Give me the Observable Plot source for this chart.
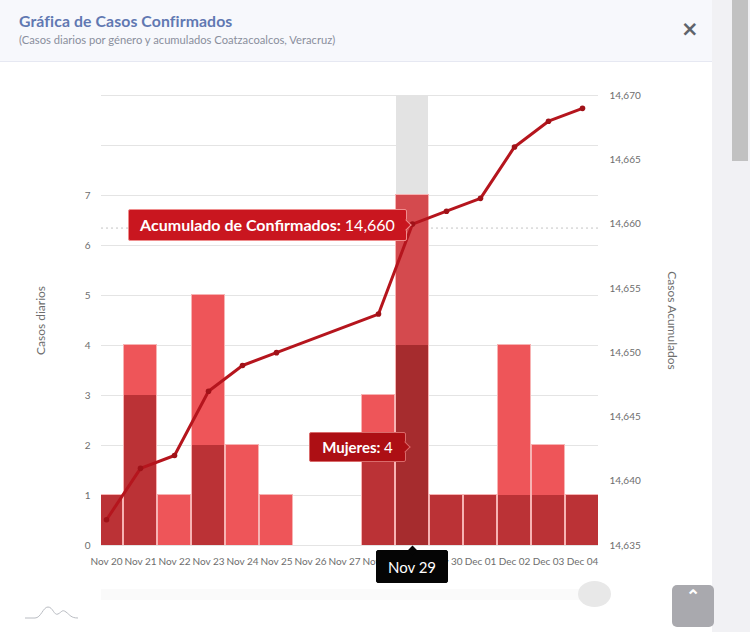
<!DOCTYPE html>
<html lang="es">
<head>
<meta charset="utf-8">
<script src="https://cdn.jsdelivr.net/npm/d3@7"></script>
<script src="https://cdn.jsdelivr.net/npm/@observablehq/plot@0.6"></script>
<style>
html,body{margin:0;padding:0;background:#fff;overflow:hidden}
#page{position:relative;width:750px;height:632px;overflow:hidden;font-family:Lato,sans-serif;background:#fff}
#head{position:absolute;left:0;top:0;width:712px;height:61px;background:#f7f8fc;border-bottom:1px solid #e6e8f2}
#title{position:absolute;left:19px;top:11px;font-size:15.8px;font-weight:700;color:#6178b2;letter-spacing:.1px}
#sub{position:absolute;left:19px;top:33px;font-size:11.2px;color:#8a8f9c}
#close{position:absolute;left:681px;top:17px;font-size:21px;line-height:24px;font-weight:700;color:#5f646b;font-family:"DejaVu Sans",sans-serif}
#rail{position:absolute;left:712px;top:0;width:38px;height:632px;background:#f1f1f4}
#thumb{position:absolute;left:732px;top:0;width:16px;height:161px;background:#c1c1c1}
#plot{position:absolute;left:0;top:0}
#slider{position:absolute;left:101px;top:589px;width:497px;height:11px;background:#fafafa}
#knob{position:absolute;left:578px;top:581px;width:33px;height:26px;border-radius:50%;background:#e8e8e8}
#up{position:absolute;left:672px;top:585px;width:42px;height:42px;border-radius:5px;background:#a9a9ae;color:#fff;text-align:center;font-size:17px;font-weight:900;line-height:22px}
.tip{position:absolute;box-sizing:border-box;white-space:nowrap;color:#fff;font-weight:700;display:flex;align-items:center;justify-content:center;border-radius:2px}
.tip span{font-weight:400}
.tip i{position:absolute;width:7px;height:7px;transform:rotate(45deg);display:block}
#logo{position:absolute;left:25px;top:604px}
</style>
</head>
<body>
<div id="page">
  <div id="rail"></div><div id="thumb"></div>
  <div id="head"></div>
  <div id="title">Gráfica de Casos Confirmados</div>
  <div id="sub">(Casos diarios por género y acumulados Coatzacoalcos, Veracruz)</div>
  <div id="close">×</div>
  <div id="slider"></div><div id="knob"></div>
  <div id="plot"></div>
  <svg id="logo" width="54" height="18" fill="none" stroke="#b9bcc2" stroke-width="1"><path d="M0 14H10C16 14 18 3 23 3S29 12 33 10 37 5 41 8 46 14 53 14"/></svg>
  <div id="up">⌃</div>
</div>
<script>
const days = ["Nov 20","Nov 21","Nov 22","Nov 23","Nov 24","Nov 25","Nov 26","Nov 27","Nov 28","Nov 29","Nov 30","Dec 01","Dec 02","Dec 03","Dec 04"];
const mujeres = [1,3,0,2,0,0,0,0,2,4,1,1,1,1,1];
const hombres = [0,1,1,3,2,1,0,0,1,3,0,0,3,1,0];
const lineDays = ["Nov 20","Nov 21","Nov 22","Nov 23","Nov 24","Nov 25","Nov 28","Nov 29","Nov 30","Dec 01","Dec 02","Dec 03","Dec 04"];
const acumulado = [14637,14641,14642,14647,14649,14650,14653,14660,14661,14662,14666,14668,14669];
const leftTicks = [0,1,2,3,4,5,6,7];
const gridTicks = [0,1,2,3,4,5,6,7,8,9];
const rightTicks = [14635,14640,14645,14650,14655,14660,14665,14670];
const activeDay = "Nov 29";
const activeAcumulado = 14660;
const activeMujeres = 4;
const yMax = 9;

const fmt = d3.format(",");
const y2 = d3.scaleLinear().domain([14635,14670]).range([0,yMax]);
const bars = [
  ...days.map((d,i)=>({day:d,serie:"Mujeres",v:mujeres[i],c:d===activeDay?"#a62c2e":"#bb3236"})),
  ...days.map((d,i)=>({day:d,serie:"Hombres",v:hombres[i],c:d===activeDay?"#d44a4e":"#ee5559"}))
].filter(d=>d.v>0);
const totals = days.map((d,i)=>({day:d,v:mujeres[i]+hombres[i]})).filter(d=>d.v>0);
const line = lineDays.map((d,i)=>({day:d,v:y2(acumulado[i])}));

const plot = Plot.plot({
  width:712,height:632,
  marginLeft:101,marginRight:114,marginTop:95,marginBottom:87,
  style:{background:"transparent",fontFamily:"Lato,sans-serif",fontSize:"10px",color:"#6d6d6d"},
  x:{type:"band",domain:days,range:[89,598],paddingInner:0.06,paddingOuter:0,align:0.5,label:null},
  y:{domain:[0,yMax],range:[545,95],label:null},
  marks:[
    Plot.gridY(gridTicks,{stroke:"#e4e4e4",strokeOpacity:1,strokeWidth:1}),
    Plot.barY([activeDay],{x:d=>d,y1:()=>0,y2:()=>yMax,fill:"#e3e3e3"}),
    Plot.ruleY([y2(activeAcumulado)],{stroke:"#c4c4c4",strokeDasharray:"2 3",dy:4}),
    Plot.barY(totals,{x:"day",y:"v",fill:"none",stroke:"#f7b3b3",strokeWidth:2,clip:true}),
    Plot.barY(bars,Plot.stackY({x:"day",y:"v",fill:"c",order:null,clip:true})),
    Plot.line(line,{x:"day",y:"v",stroke:"#b5151d",strokeWidth:3,curve:"linear",clip:true}),
    Plot.dot(line,{x:"day",y:"v",r:2.8,fill:"#a01218",clip:true}),
    Plot.axisX({tickSize:0,tickPadding:12,label:null,fontSize:10}),
    Plot.axisY(leftTicks,{anchor:"left",tickSize:0,tickPadding:11,label:null,fontSize:10,tickFormat:d3.format("d")}),
    Plot.axisY(rightTicks.map(y2),{anchor:"right",tickSize:0,tickPadding:11,label:null,fontSize:10,tickFormat:v=>fmt(Math.round(y2.invert(v)))}),
    Plot.text(["Casos diarios"],{frameAnchor:"left",textAnchor:"middle",dx:-60,rotate:-90,fontSize:12,lineAnchor:"middle"}),
    Plot.text(["Casos Acumulados"],{frameAnchor:"right",textAnchor:"middle",dx:73,rotate:90,fontSize:12,lineAnchor:"middle"})
  ]
});
document.getElementById("plot").append(plot);

// Tooltips anchored through the chart's own scales
const sx = plot.scale("x"), sy = plot.scale("y");
const cx = sx.apply(activeDay) + sx.bandwidth/2;
const page = document.getElementById("page");
function tip(html,{left,top,width,height,bg,border,size,arrow}){
  const t = document.createElement("div");
  t.className = "tip";
  t.innerHTML = html;
  t.style.cssText = `left:${left}px;top:${top}px;width:${width}px;height:${height}px;background:${bg};border:1px solid ${border};font-size:${size}px`;
  const a = document.createElement("i");
  a.style.cssText = `background:${bg};` + (arrow==="right"
    ? `right:-4px;top:${height/2-5}px;border-top:1px solid ${border};border-right:1px solid ${border}`
    : `left:${width/2-4}px;top:-4px`);
  t.append(a);
  page.append(t);
}
const yA = sy.apply(y2(activeAcumulado));
const yM = sy.apply(2);
tip(`Acumulado de Confirmados:&nbsp;<span>${fmt(activeAcumulado)}</span>`,
  {left:cx-284,top:yA-15,width:279,height:32,bg:"#c9161f",border:"#ef8d8d",size:16,arrow:"right"});
tip(`Mujeres:&nbsp;<span>${activeMujeres}</span>`,
  {left:cx-103,top:yM-13,width:97,height:30,bg:"#ad0f14",border:"#d96b6b",size:15,arrow:"right"});
const lab = {left:cx-36,top:sy.apply(0)+5,width:72,height:33,bg:"#050505",border:"#050505",size:15,arrow:"top"};
tip(`<span>${activeDay}</span>`,lab);
</script>
</body>
</html>
